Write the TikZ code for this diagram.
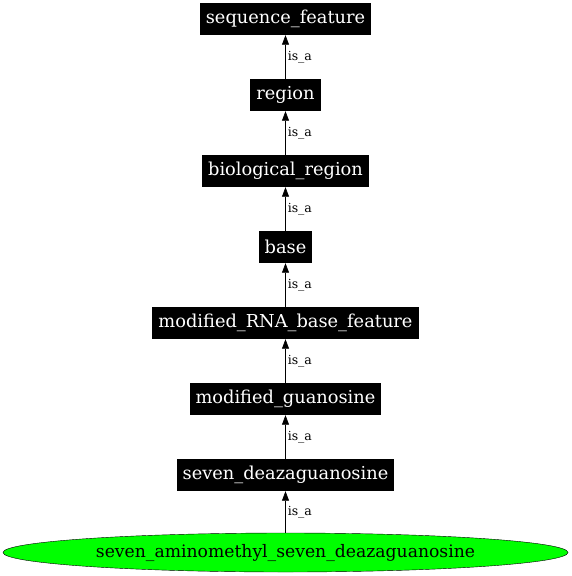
\documentclass[tikz,border=0pt]{standalone}
\usepackage{fontspec}
\setmainfont{DejaVu Serif}
\usetikzlibrary{arrows.meta, shapes.geometric}

\begin{document}
\begin{tikzpicture}[x=1pt, y=-1pt, >={Triangle[length=9.5pt, width=7pt]},
        term/.style={fill=black, text=white, rectangle, minimum height=32pt,
            inner xsep=6pt, font=\fontsize{17.8}{19}\selectfont},
        leaf/.style={draw=black, fill=green, ellipse, minimum width=565pt,
            minimum height=39pt, inner sep=0pt, font=\fontsize{17.2}{19}\selectfont},
        isa/.style={->, black, line width=0.6pt},
        lbl/.style={right, inner sep=2pt, font=\fontsize{12.5}{14}\selectfont}]
    \useasboundingbox (0,0) rectangle (571,576);

    \node[term] (seqfeat) at (285.5,19) {sequence\_feature};
    \node[term] (region) at (285.5,95) {region};
    \node[term] (bioregion) at (285.5,171) {biological\_region};
    \node[term] (base) at (285.5,247) {base};
    \node[term] (modrna) at (285.5,323) {modified\_RNA\_base\_feature};
    \node[term] (modguan) at (285.5,399) {modified\_guanosine};
    \node[term] (deaza) at (285.5,475) {seven\_deazaguanosine};
    \node[leaf] (amino) at (285.5,552.5) {seven\_aminomethyl\_seven\_deazaguanosine};

    \draw[isa] (region) -- node[lbl] {is\_a} (seqfeat);
    \draw[isa] (bioregion) -- node[lbl] {is\_a} (region);
    \draw[isa] (base) -- node[lbl] {is\_a} (bioregion);
    \draw[isa] (modrna) -- node[lbl] {is\_a} (base);
    \draw[isa] (modguan) -- node[lbl] {is\_a} (modrna);
    \draw[isa] (deaza) -- node[lbl] {is\_a} (modguan);
    \draw[isa] (amino) -- node[lbl] {is\_a} (deaza);
\end{tikzpicture}
\end{document}
